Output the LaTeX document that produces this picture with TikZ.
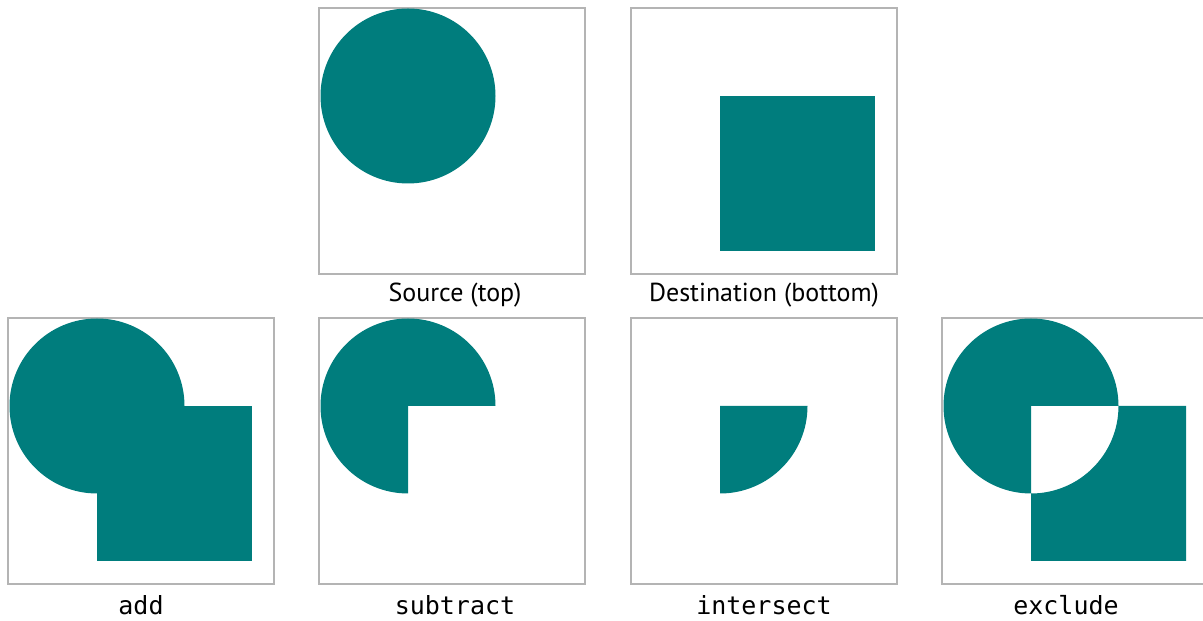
\documentclass[tikz,border=0pt]{standalone}
\usepackage{fontspec}
\setmainfont{PT Sans}
\setmonofont{DejaVu Sans Mono}
\usepackage{xcolor}
\definecolor{ShapeTeal}{HTML}{007D7D}
\definecolor{PanelGray}{HTML}{B4B4B4}
\usepackage{tikz}
\usetikzlibrary{positioning}

\tikzset{
  panel/.style={draw=PanelGray, line width=1.4pt, minimum size=266pt, inner sep=0pt, outer sep=0pt},
  lbl/.style={font=\fontsize{26}{31}\selectfont, inner sep=0pt, text height=18pt, text depth=5pt},
  oplbl/.style={lbl, font=\fontsize{25}{30}\selectfont\ttfamily},
  tealfill/.style={fill=ShapeTeal}
}

\begin{document}
\begin{tikzpicture}[x=1pt, y=1pt]
      \useasboundingbox (0,0) rectangle (1203,621);
      % panels
      \node[panel] (src) at (452,480) {};
      \node[panel] (dst) at (764,480) {};
      \node[panel] (add) at (141,170) {};
      \node[panel] (sub) at (452,170) {};
      \node[panel] (int) at (764,170) {};
      \node[panel] (exc) at (1075,170) {};
      % labels
      \node[lbl, below=9pt of src, xshift=3pt] (srclbl) {Source (top)};
      \node[lbl, below=9pt of dst] (dstlbl) {Destination (bottom)};
      \node[oplbl, below=12pt of add] (addlbl) {add};
      \node[oplbl, below=12pt of sub, xshift=3pt] (sublbl) {subtract};
      \node[oplbl, below=12pt of int] (intlbl) {intersect};
      \node[oplbl, below=12pt of exc, xshift=-9pt] (exclbl) {exclude};
      % source: circle only
      \begin{scope}[shift={(src.north west)}]
        \fill[tealfill] (89,-88) circle (87.5);
      \end{scope}
      % destination: square only
      \begin{scope}[shift={(dst.north west)}]
        \fill[tealfill] (89,-88) rectangle ++(155,-155);
      \end{scope}
      % add
      \begin{scope}[shift={(add.north west)}]
        \fill[tealfill] (89,-88) circle (87.5);
        \fill[tealfill] (89,-88) rectangle ++(155,-155);
      \end{scope}
      % subtract
      \begin{scope}[shift={(sub.north west)}]
        \fill[tealfill] (89,-88) -- ++(87.5,0) arc(0:270:87.5) -- cycle;
      \end{scope}
      % intersect
      \begin{scope}[shift={(int.north west)}]
        \fill[tealfill] (89,-88) -- ++(87.5,0) arc(0:-90:87.5) -- cycle;
      \end{scope}
      % exclude
      \begin{scope}[shift={(exc.north west)}]
        \fill[tealfill, even odd rule] (89,-88) circle (87.5) (89,-88) rectangle ++(155,-155);
      \end{scope}
\end{tikzpicture}
\end{document}
